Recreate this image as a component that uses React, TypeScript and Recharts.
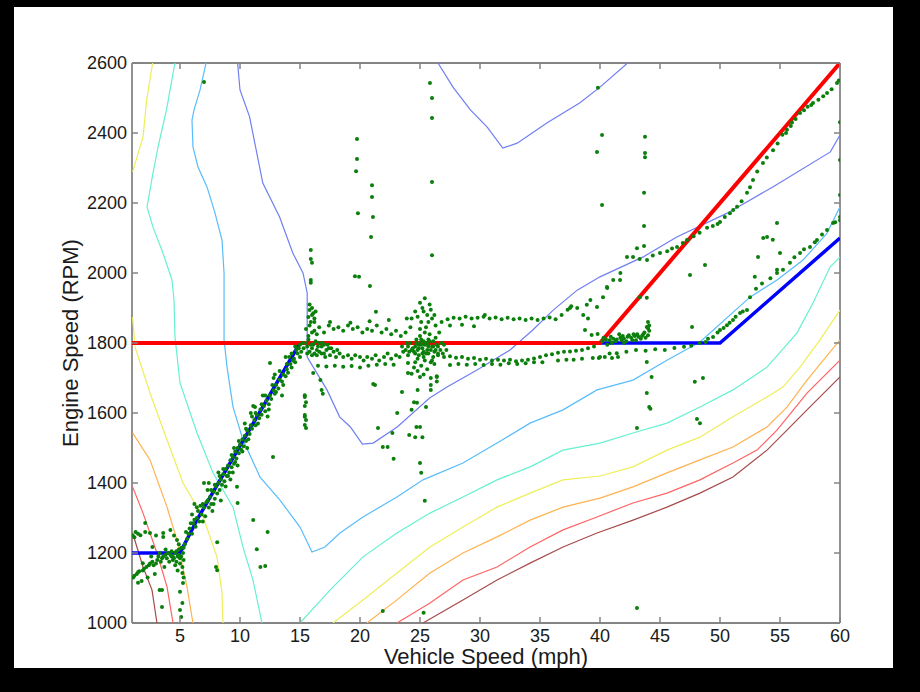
import React from 'react';
import { ScatterChart, Scatter, XAxis, YAxis } from 'recharts';

type Pt = [number, number];

// ---------------------------------------------------------------------------
// Axes
// ---------------------------------------------------------------------------

const SPEED_DOMAIN: Pt = [1, 60];
const RPM_DOMAIN: Pt = [1000, 2600];
const SPEED_TICKS = [5, 10, 15, 20, 25, 30, 35, 40, 45, 50, 55, 60];
const RPM_TICKS = [1000, 1200, 1400, 1600, 1800, 2000, 2200, 2400, 2600];

// ---------------------------------------------------------------------------
// Shift schedule lines (mph, rpm)
// ---------------------------------------------------------------------------

const upshiftLine: Pt[] = [[1, 1800], [40, 1800], [60, 2600]];
const lowGearLine: Pt[] = [[1, 1200], [5, 1200], [6.5, 1300], [15, 1800]];
const highGearLine: Pt[] = [[40, 1800], [50, 1800], [60, 2100]];

// ---------------------------------------------------------------------------
// Contour branches (mph, rpm)
// ---------------------------------------------------------------------------

const blueMain: Pt[] = [
  [9.8, 2600], [10, 2523], [10.8, 2446], [11.9, 2257], [13.3, 2160], [14.4, 2057],
  [15.25, 2000], [15.6, 1943], [15.6, 1760], [17.25, 1666], [18.3, 1589], [19.2, 1560],
  [20.2, 1511], [21.1, 1514], [23.1, 1560], [25.8, 1643], [27.25, 1674], [29.75, 1723],
  [32.5, 1780], [34.4, 1837], [36.1, 1894], [38.1, 1951], [40, 1989], [43.6, 2046],
  [46.4, 2103], [50.6, 2171], [54.4, 2246], [59.2, 2346], [60, 2394],
];
const blueTop: Pt[] = [
  [26.5, 2600], [27.75, 2531], [29.2, 2466], [30.6, 2417], [31.9, 2357], [33.1, 2371],
  [35.6, 2429], [38.3, 2486], [40, 2531], [42.3, 2600],
];
const lightBlue: Pt[] = [
  [7.17, 2600], [6.67, 2523], [6.17, 2466], [6, 2437], [6.08, 2360], [6.5, 2303],
  [7.25, 2246], [7.92, 2171], [8.5, 2094], [8.67, 2000], [8.67, 1809], [8.92, 1731],
  [9.42, 1617], [10.25, 1523], [11.67, 1417], [13.33, 1351], [15, 1274], [16, 1203],
  [17.08, 1217], [18.33, 1257], [20.25, 1303], [23.08, 1360], [25.25, 1409], [28.58, 1457],
  [31.42, 1514], [34.17, 1571], [36.92, 1609], [39.75, 1666], [42.75, 1694], [45.58, 1751],
  [48.33, 1803], [52.5, 1931], [54.75, 1980], [56.92, 2037], [58.92, 2114], [60, 2189],
];
const aquaLeft: Pt[] = [
  [4.58, 2600], [4.17, 2523], [3.92, 2474], [3.17, 2360], [2.75, 2286], [2.25, 2189],
  [2.75, 2131], [3.58, 2057], [4.33, 1980], [4.5, 1923], [4.58, 1817], [5, 1686],
  [6.42, 1543], [7.75, 1429], [9.42, 1331], [10.25, 1217], [11.08, 1123], [11.83, 1000],
];
const aquaRight: Pt[] = [
  [15, 1000], [17.5, 1094], [20.25, 1189], [23.08, 1257], [25.83, 1314], [28.58, 1360],
  [31.42, 1409], [34.17, 1446], [36.92, 1494], [40, 1514], [42.75, 1543], [45.58, 1571],
  [48.33, 1617], [51.08, 1666], [53.92, 1731], [56.42, 1829], [57.75, 1914], [59.17, 2017],
  [60, 2046],
];
const yellowTop: Pt[] = [[2.72, 2600], [2.22, 2494], [1.92, 2389], [1.05, 2289]];
const yellowLeft: Pt[] = [
  [1.05, 1874], [1.25, 1789], [2.5, 1657], [3.92, 1523], [5.25, 1400], [6.92, 1303],
  [8.08, 1189], [8.5, 1086], [8.58, 1000],
];
const yellowRight: Pt[] = [
  [17.75, 1000], [20.25, 1066], [23.08, 1143], [25.83, 1217], [28.58, 1274], [31.42, 1331],
  [34.17, 1371], [36.92, 1409], [40, 1420], [42.75, 1446], [45.58, 1494], [48.33, 1531],
  [51.08, 1589], [53.92, 1646], [55.25, 1674], [56.67, 1731], [58.33, 1809], [60, 1894],
];
const orangeLeft: Pt[] = [
  [1.05, 1543], [2.5, 1466], [3.92, 1331], [4.75, 1237], [5.58, 1103], [6.08, 1000],
];
const orangeRight: Pt[] = [
  [20.58, 1000], [23.08, 1066], [25.83, 1143], [28.58, 1200], [31.42, 1246], [34.17, 1294],
  [36.92, 1331], [40, 1357], [42.75, 1389], [45.58, 1429], [48.33, 1466], [51.08, 1503],
  [53.92, 1560], [55.58, 1617], [57.25, 1694], [60, 1809],
];
const redLeft: Pt[] = [[1.05, 1389], [1.92, 1314], [3.08, 1200], [3.92, 1103], [4.42, 1000]];
const redRight: Pt[] = [
  [23.08, 1000], [25.83, 1057], [28.58, 1123], [31.42, 1160], [34.17, 1217], [36.92, 1266],
  [39.75, 1303], [42.75, 1343], [45.58, 1371], [48.33, 1409], [51.08, 1457], [53.08, 1494],
  [54.75, 1551], [57.25, 1657], [60, 1751],
];
const brownLeft: Pt[] = [[1.05, 1257], [1.92, 1160], [2.67, 1094], [3.08, 1000]];
const brownRight: Pt[] = [
  [25.25, 1000], [28.58, 1066], [31.42, 1123], [34.17, 1171], [36.92, 1217], [39.75, 1257],
  [42.75, 1294], [45.58, 1331], [48.33, 1371], [51.08, 1417], [53.92, 1494], [55.58, 1551],
  [57.25, 1609], [60, 1703],
];

// ---------------------------------------------------------------------------
// Measured operating points (mph, rpm)
// ---------------------------------------------------------------------------

const launchPts: Pt[] = [
  [1.1, 1130], [1.2, 1245], [1.3, 1260], [1.4, 1140], [1.6, 1148], [1.7, 1251], [1.9, 1150],
  [1.9, 1171], [2.1, 1260], [2.1, 1286], [2.2, 1160], [2.5, 1170], [2.5, 1257], [2.6, 1190],
  [2.7, 1217], [2.8, 1165], [3.0, 1250], [3.1, 1180], [3.3, 1200], [3.3, 1094], [3.4, 1175],
  [3.5, 1046], [3.5, 1094], [3.6, 1190], [3.6, 1257], [3.6, 1246], [3.8, 1210], [3.9, 1185],
  [4.2, 1195], [4.2, 1266], [4.3, 1205], [4.4, 1180], [4.5, 1250], [4.6, 1200], [4.7, 1175],
  [4.75, 1237], [4.8, 1190], [4.9, 1210], [4.9, 1225], [5.0, 1185], [5.0, 1170], [5.0, 1089],
  [5.0, 1037], [5.1, 1017], [5.1, 1215], [5.2, 1160], [5.2, 1143], [5.2, 1057], [5.25, 1114],
  [5.25, 1200], [5.3, 1180], [4.4, 1190], [4.6, 1165], [4.1, 1175], [3.7, 1160], [2.9, 1140],
  [2.3, 1130], [1.8, 1120], [1.5, 1115], [4.8, 1150], [5.3, 1130],
  [1.2, 1135], [1.5, 1145], [2.0, 1155], [2.4, 1165], [2.7, 1175], [3.0, 1170], [3.2, 1190],
  [3.5, 1185], [3.8, 1195], [4.0, 1200], [4.3, 1190], [4.5, 1185], [4.7, 1205], [4.9, 1195],
  [5.1, 1190], [1.05, 1250], [1.5, 1255],
];

const rampPts: Pt[] = [
  [5.4, 1225], [5.5, 1260], [5.6, 1240], [5.8, 1270], [6.0, 1255], [6.1, 1285], [6.2, 1340],
  [6.3, 1275], [6.4, 1300], [6.5, 1320], [6.6, 1290], [6.8, 1310], [6.9, 1290], [7.0, 1330],
  [7.1, 1305], [7.2, 1345], [7.3, 1380], [7.4, 1330], [7.4, 1400], [7.5, 1360], [7.6, 1340],
  [7.7, 1320], [7.8, 1375], [7.9, 1355], [8.0, 1390], [8.1, 1370], [8.2, 1400], [8.2, 1430],
  [8.3, 1380], [8.4, 1410], [8.4, 1350], [8.5, 1395], [8.6, 1425], [8.7, 1405], [8.8, 1440],
  [8.8, 1390], [8.9, 1420], [9.0, 1450], [9.1, 1430], [9.2, 1465], [9.2, 1410], [9.3, 1445],
  [9.4, 1475], [9.5, 1455], [9.5, 1500], [9.6, 1490], [9.7, 1470], [9.8, 1500], [9.8, 1450],
  [9.9, 1485], [10.0, 1510], [10.1, 1495], [10.2, 1525], [10.3, 1505], [10.4, 1535],
  [10.4, 1570], [10.5, 1520], [10.6, 1550], [10.6, 1500], [10.8, 1540], [10.9, 1565],
  [11.0, 1555], [11.1, 1620], [11.2, 1580], [11.3, 1565], [11.4, 1595], [11.6, 1585],
  [11.7, 1610], [11.8, 1595], [11.9, 1650], [12.0, 1620], [12.1, 1605], [12.2, 1635],
  [12.3, 1590], [12.4, 1625], [12.5, 1650], [12.6, 1640], [12.8, 1665], [12.8, 1700],
  [12.9, 1655], [13.0, 1680], [13.2, 1670], [13.3, 1695], [13.5, 1690], [13.5, 1650],
  [13.6, 1710], [13.8, 1705], [13.8, 1760], [13.9, 1725], [14.0, 1715], [14.2, 1740],
  [14.3, 1730], [14.3, 1770], [14.5, 1755], [14.6, 1745], [14.8, 1770], [14.9, 1785],
  [15.0, 1795], [15.1, 1775],
  [5.3, 1215], [5.7, 1255], [5.9, 1285], [6.2, 1295], [6.7, 1335], [6.9, 1340], [7.3, 1350],
  [7.6, 1380], [7.9, 1395], [8.3, 1420], [8.6, 1440], [9.0, 1420], [9.3, 1480], [9.6, 1460],
  [9.9, 1520], [10.2, 1490], [10.5, 1555], [10.7, 1525], [11.0, 1590], [11.3, 1600],
  [11.5, 1570], [11.8, 1625], [12.1, 1650], [12.4, 1610], [12.7, 1680], [13.0, 1660],
  [13.3, 1720], [13.6, 1680], [13.9, 1740], [14.1, 1760], [14.4, 1750], [14.7, 1780],
  [15.0, 1760], [14.6, 1790], [15.2, 1800], [6.0, 1310], [7.8, 1340], [9.4, 1430],
  [10.9, 1600], [12.9, 1710],
];

const cruisePts: Pt[] = [
  // column near 15.5 mph
  [15.9, 2066], [15.9, 2040], [16.0, 2029], [15.9, 1980], [15.9, 1972], [15.8, 1894],
  [15.7, 1874], [16.1, 1885], [16.2, 1870], [15.9, 1860], [16.3, 1890], [16.0, 1900],
  [15.4, 1651], [15.5, 1631], [15.4, 1594], [15.5, 1580], [15.4, 1566], [15.5, 1557],
  [16.8, 1666], [16.9, 1655], [16.1, 1714], [16.7, 1694], [15.4, 1646], [15.4, 1620],
  [15.4, 1589],
  // dense band ~1770
  [15.6, 1790], [15.8, 1775], [16.0, 1785], [16.2, 1770], [16.4, 1780], [16.6, 1775],
  [16.8, 1790], [17.0, 1770], [17.2, 1780], [17.5, 1765], [17.8, 1775], [18.0, 1760],
  [18.3, 1770], [18.6, 1760], [19.0, 1765], [19.3, 1755], [19.6, 1765], [20.0, 1760],
  [20.3, 1750], [20.6, 1760], [21.0, 1755], [21.3, 1765], [21.6, 1750], [22.0, 1760],
  [22.3, 1770], [22.6, 1755], [23.0, 1765], [23.3, 1760], [23.6, 1775], [24.0, 1765],
  [24.3, 1780], [24.6, 1770], [15.5, 1800], [15.7, 1810], [16.1, 1795], [16.3, 1805],
  [16.5, 1790], [16.9, 1800], [17.3, 1795], [17.6, 1785], [18.1, 1780],
  [15.3, 1785], [15.6, 1770], [15.9, 1795], [16.0, 1765], [16.2, 1800], [16.4, 1765],
  [16.6, 1800], [16.8, 1770], [17.0, 1795], [17.1, 1760], [17.4, 1785], [15.7, 1820],
  [16.0, 1830], [16.4, 1825], [15.5, 1840], [16.2, 1860], [15.8, 1910], [16.0, 1880],
  // upper band ~1840
  [15.8, 1850], [16.2, 1835], [16.6, 1845], [17.0, 1830], [17.4, 1850], [17.8, 1840],
  [18.2, 1845], [18.6, 1835], [19.0, 1850], [19.4, 1840], [19.8, 1845], [20.2, 1830],
  [20.6, 1840], [21.0, 1835], [21.4, 1850], [21.8, 1830], [22.2, 1840], [22.6, 1825],
  [23.0, 1835], [23.4, 1820], [23.8, 1830], [24.2, 1845], [17.5, 1860], [19.2, 1858],
  [20.8, 1862], [22.4, 1866], [23.9, 1870],
  // dotted row ~1735
  [16.5, 1735], [17.2, 1733], [17.9, 1735], [18.6, 1732], [19.3, 1734], [20.0, 1730],
  [20.7, 1735], [21.4, 1738], [22.1, 1740], [22.8, 1738], [27.5, 1737], [28.2, 1740],
  [28.9, 1738], [29.6, 1740], [30.3, 1737], [31.0, 1740], [31.7, 1738], [32.4, 1742],
  [33.1, 1740], [33.8, 1742], [34.5, 1745], [35.2, 1745],
  // rows 26-40 mph
  [26.8, 1860], [27.3, 1868], [27.8, 1872], [28.3, 1870], [28.8, 1875], [29.3, 1870],
  [29.8, 1872], [30.3, 1875], [30.8, 1870], [31.3, 1873], [31.8, 1868], [32.3, 1872],
  [32.8, 1868], [33.3, 1870], [33.8, 1866], [34.3, 1870], [34.8, 1866], [35.3, 1870],
  [35.8, 1873], [36.3, 1868], [36.8, 1880], [37.3, 1895], [37.6, 1905], [38.1, 1900],
  [38.6, 1880], [39.0, 1870], [27.5, 1850], [28.5, 1852], [29.5, 1848], [30.4, 1880],
  [26.5, 1765], [27.0, 1760], [27.5, 1762], [28.0, 1758], [28.5, 1760], [29.0, 1755],
  [29.5, 1757], [30.0, 1752], [30.5, 1755], [31.0, 1750], [31.5, 1752], [32.0, 1750],
  [32.5, 1752], [33.0, 1748], [33.5, 1750], [34.0, 1752], [34.5, 1756], [35.0, 1760],
  [35.5, 1765], [36.0, 1768], [36.5, 1772], [37.0, 1775], [37.5, 1776], [38.0, 1778],
  [38.5, 1780], [39.0, 1785], [39.5, 1790], [36.5, 1750], [37.2, 1752], [37.8, 1752],
  [38.5, 1755], [39.4, 1757], [38.75, 1837], [39.3, 1823], [39.8, 1826], [37.5, 1900],
  [38.9, 1909], [39.2, 1923],
];

const clusterPts: Pt[] = [
  [24.6, 1790], [24.8, 1780], [25.0, 1800], [25.2, 1785], [25.4, 1795], [25.6, 1780],
  [25.8, 1805], [26.0, 1790], [26.2, 1775], [26.4, 1795], [24.9, 1765], [25.3, 1760],
  [25.7, 1770], [26.1, 1760], [25.0, 1820], [25.4, 1830], [25.8, 1825], [26.3, 1815],
  [24.7, 1810], [25.5, 1845], [25.1, 1860], [25.6, 1880], [25.2, 1900], [25.0, 1915],
  [25.4, 1928], [25.8, 1910], [24.6, 1890], [24.3, 1870], [26.0, 1870], [26.3, 1850],
  [26.6, 1830], [26.8, 1800], [26.7, 1780], [27.0, 1795], [24.2, 1800], [24.0, 1790],
  [23.8, 1780], [25.9, 1745], [25.1, 1735], [25.6, 1725], [26.2, 1740], [24.8, 1720],
  [25.3, 1710], [25.9, 1700], [26.4, 1705], [24.5, 1730], [24.9, 1795], [25.3, 1775],
  [25.7, 1790], [26.1, 1805], [25.5, 1800], [25.1, 1810], [24.4, 1785], [26.5, 1770],
  [25.0, 1703], [24.8, 1666], [24.5, 1631], [25.5, 1617], [24.3, 1609], [25.0, 1560],
  [24.7, 1560], [24.1, 1537], [24.6, 1531], [25.2, 1531], [25.0, 1457], [25.1, 1429],
  [25.4, 1349], [25.9, 1680], [25.9, 1666], [24.0, 1714], [24.3, 1712], [24.0, 1743],
  [26.4, 1703], [26.4, 1690],
  [24.5, 1775], [24.7, 1800], [24.9, 1785], [25.1, 1795], [25.3, 1805], [25.5, 1770],
  [25.7, 1810], [25.9, 1780], [26.1, 1790], [26.3, 1780], [24.8, 1755], [25.4, 1750],
  [26.0, 1750], [25.2, 1770], [25.6, 1795], [24.6, 1745], [26.5, 1790], [26.9, 1770],
  [27.2, 1780], [23.5, 1790], [23.9, 1800], [24.1, 1775], [25.0, 1840], [25.7, 1860],
  [26.2, 1880], [24.8, 1875], [25.3, 1890], [25.9, 1895],
];

const strayPts: Pt[] = [
  [7.0, 1400], [6.4, 1331], [8.1, 1231], [8.1, 1151], [8.0, 1160], [9.75, 1389],
  [9.8, 1343], [11.1, 1294], [12.3, 1260], [11.4, 1211], [12.1, 1163], [11.7, 1160],
  [12.75, 1474], [11.25, 1617], [12.5, 1743], [7.0, 2546],
  [25.83, 2543], [26.0, 2500], [26.0, 2443], [26.0, 2260], [26.0, 2051],
  [19.75, 2383], [19.75, 2326], [19.67, 2291], [19.83, 2171], [19.58, 1991], [19.92, 1989],
  [21.0, 2251], [21.0, 2217], [21.08, 2160], [20.92, 2103], [20.83, 1963], [21.33, 1889],
  [39.83, 2529], [39.75, 2346], [40.17, 2394], [40.17, 2194],
  [21.1, 1683], [23.5, 1660], [23.1, 1600], [21.5, 1557], [22.7, 1543], [21.9, 1503],
  [22.3, 1503], [22.8, 1469], [21.25, 1680], [24.75, 1629], [25.3, 1029], [21.9, 1034],
  [43.9, 1746], [44.3, 1703], [43.9, 1657], [44.1, 1617], [44.2, 1612], [43.08, 1557],
  [47.9, 1689], [48.58, 1700], [48.08, 1583], [48.33, 1571], [43.08, 1043],
];

const highGearPts: Pt[] = [
  // hump at 40-44 mph
  [40.2, 1805], [40.5, 1810], [40.8, 1808], [41.1, 1812], [41.4, 1810], [41.7, 1815],
  [42.0, 1812], [42.3, 1818], [42.6, 1815], [42.9, 1820], [43.2, 1818], [43.5, 1820],
  [43.8, 1815], [44.0, 1822], [44.1, 1835], [44.1, 1850], [44.0, 1860], [43.6, 1825],
  [42.8, 1825], [41.9, 1820], [41.0, 1800], [40.6, 1795], [42.2, 1805], [43.0, 1808],
  [40.3, 1815], [40.9, 1818], [41.3, 1805], [41.8, 1808], [42.4, 1822], [42.7, 1808],
  [43.1, 1825], [43.4, 1812], [43.7, 1830], [44.0, 1842], [41.6, 1825], [42.0, 1800],
  // row 40-49 mph
  [40.0, 1760], [40.8, 1770], [41.4, 1771], [42.2, 1775], [43.0, 1780], [43.8, 1778],
  [44.6, 1782], [45.4, 1780], [46.2, 1786], [47.0, 1789], [47.6, 1792], [48.3, 1800],
  [48.8, 1803], [39.9, 1757], [40.4, 1760], [41.0, 1757], [41.5, 1760],
  // band below the upshift line
  [39.75, 1903], [40.25, 1931], [40.6, 1957], [41.1, 1980], [41.7, 2000], [42.25, 2046],
  [40.58, 1960], [41.67, 1980], [42.75, 2046], [43.3, 2040], [43.92, 2037], [44.4, 2050],
  [45.0, 2057], [45.6, 2062], [46.0, 2070], [46.42, 2074], [46.9, 2086], [47.25, 2094],
  [47.8, 2105], [48.3, 2115], [48.92, 2129], [49.4, 2134], [49.8, 2140], [50.0, 2146],
  [50.4, 2160], [50.83, 2171], [51.1, 2180], [51.42, 2189], [51.8, 2205], [52.25, 2229],
  [52.5, 2245], [52.75, 2266], [53.1, 2290], [53.58, 2314], [53.9, 2330], [54.42, 2351],
  [54.8, 2370], [55.2, 2395], [55.58, 2409], [55.9, 2420], [56.0, 2430], [56.3, 2440],
  [56.67, 2457], [57.0, 2465], [57.3, 2475], [57.6, 2480], [57.75, 2486], [58.2, 2495],
  [58.6, 2505], [58.92, 2514], [59.3, 2525], [59.75, 2543], [59.9, 2550], [55.5, 2400],
  // band above the high-gear line
  [49.0, 1812], [49.42, 1817], [49.8, 1830], [50.0, 1837], [50.3, 1843], [50.58, 1851],
  [50.8, 1858], [51.08, 1866], [51.3, 1875], [51.67, 1886], [51.9, 1890], [52.25, 1894],
  [52.5, 1931], [53.0, 1955], [53.5, 1970], [54.2, 1985], [54.75, 2000], [55.25, 2009],
  [55.83, 2029], [56.2, 2045], [56.67, 2057], [57.0, 2068], [57.5, 2074], [57.9, 2088],
  [58.08, 2094], [58.5, 2110], [58.92, 2123], [59.42, 2143], [59.6, 2145], [60.0, 2151],
  // scattered
  [60.0, 2431], [60.0, 2323], [60.0, 2223], [60.0, 2160], [54.75, 2143], [53.92, 2103],
  [53.6, 2100], [54.4, 2095], [53.17, 2046], [55.0, 2057], [52.9, 1989], [54.75, 2009],
  [48.75, 2023], [47.5, 1994], [43.33, 1931], [43.75, 2389], [43.75, 2343], [43.75, 2331],
  [43.67, 2229], [43.67, 2134], [43.67, 2077], [47.67, 1846], [43.08, 2071], [43.9, 1929],
  [43.9, 1846],
];

// ---------------------------------------------------------------------------
// Styling
// ---------------------------------------------------------------------------

const AXIS_GREY = '#858585';
const POINT_GREEN = '#0b7f0b';
const TICK_LEN = 6;

const CONTOURS: { key: string; pts: Pt[]; color: string }[] = [
  { key: 'brownLeft', pts: brownLeft, color: '#a64b4b' },
  { key: 'brownRight', pts: brownRight, color: '#a64b4b' },
  { key: 'redLeft', pts: redLeft, color: '#ff6464' },
  { key: 'redRight', pts: redRight, color: '#ff6464' },
  { key: 'orangeLeft', pts: orangeLeft, color: '#ffb24f' },
  { key: 'orangeRight', pts: orangeRight, color: '#ffb24f' },
  { key: 'yellowTop', pts: yellowTop, color: '#eeee5a' },
  { key: 'yellowLeft', pts: yellowLeft, color: '#eeee5a' },
  { key: 'yellowRight', pts: yellowRight, color: '#eeee5a' },
  { key: 'aquaLeft', pts: aquaLeft, color: '#66f0d0' },
  { key: 'aquaRight', pts: aquaRight, color: '#66f0d0' },
  { key: 'lightBlue', pts: lightBlue, color: '#58bdfb' },
  { key: 'blueMain', pts: blueMain, color: '#6f7ff0' },
  { key: 'blueTop', pts: blueTop, color: '#6f7ff0' },
];

const toXY = (pts: Pt[]) => pts.map(([x, y]) => ({ x, y }));

const noMark = () => <g />;
const dot = (props: any) => (
  <circle cx={props.cx} cy={props.cy} r={2} fill={POINT_GREEN} />
);

const FONT = 'Liberation Sans, Arial, sans-serif';
const tickFont = { fontSize: 18, fill: '#1a1a1a', fontFamily: FONT };
const titleFont = { fontSize: 22, fill: '#1a1a1a', fontFamily: FONT };

// MATLAB-style inward ticks (tickSize 0, tickMargin 0 -> x/y sit on the axis line)
const bottomTick = (p: any) => (
  <g>
    <line x1={p.x} x2={p.x} y1={p.y} y2={p.y - TICK_LEN} stroke={AXIS_GREY} strokeWidth={1.5} />
    <text x={p.x} y={p.y + 6} dy="0.71em" textAnchor="middle" {...tickFont}>
      {p.payload.value}
    </text>
  </g>
);
const topTick = (p: any) => (
  <line x1={p.x} x2={p.x} y1={p.y} y2={p.y + TICK_LEN} stroke={AXIS_GREY} strokeWidth={1.5} />
);
const leftTick = (p: any) => (
  <g>
    <line x1={p.x} x2={p.x + TICK_LEN} y1={p.y} y2={p.y} stroke={AXIS_GREY} strokeWidth={1.5} />
    <text x={p.x - 5} y={p.y} dy="0.355em" textAnchor="end" {...tickFont}>
      {p.payload.value}
    </text>
  </g>
);
const rightTick = (p: any) => (
  <line x1={p.x} x2={p.x - TICK_LEN} y1={p.y} y2={p.y} stroke={AXIS_GREY} strokeWidth={1.5} />
);

const xTitle = (props: any) => {
  const { x, y, width } = props.viewBox;
  return (
    <text x={x + width / 2} y={y + 41} textAnchor="middle" {...titleFont}>
      Vehicle Speed (mph)
    </text>
  );
};

const yTitle = (props: any) => {
  const { x, y, height } = props.viewBox;
  const cx = x + 16;
  const cy = y + height / 2;
  return (
    <text x={cx} y={cy} textAnchor="middle" transform={`rotate(-90 ${cx} ${cy})`} {...titleFont}>
      Engine Speed (RPM)
    </text>
  );
};

// ---------------------------------------------------------------------------
// Component
// ---------------------------------------------------------------------------

const ShiftMapChart: React.FC = () => (
  <div style={{ position: 'absolute', left: 0, top: 0, width: 920, height: 692, background: '#000' }}>
    <div
      style={{ position: 'absolute', left: 14, top: 7, width: 879, height: 661, background: '#fff' }}
    />
    <div style={{ position: 'absolute', left: 0, top: 0 }}>
      <ScatterChart width={920} height={692} margin={{ top: 43, right: 60, bottom: 19, left: 62 }}>
        <XAxis
          type="number"
          dataKey="x"
          domain={SPEED_DOMAIN}
          ticks={SPEED_TICKS}
          allowDataOverflow
          height={50}
          tickSize={0}
          tickMargin={0}
          tickLine={false}
          tick={bottomTick}
          stroke={AXIS_GREY}
          strokeWidth={1.8}
          label={{ content: xTitle }}
        />
        <XAxis
          xAxisId="top"
          orientation="top"
          type="number"
          dataKey="x"
          domain={SPEED_DOMAIN}
          ticks={SPEED_TICKS}
          allowDataOverflow
          height={20}
          tickSize={0}
          tickMargin={0}
          tickLine={false}
          tick={topTick}
          stroke={AXIS_GREY}
          strokeWidth={1.8}
        />
        <YAxis
          type="number"
          dataKey="y"
          domain={RPM_DOMAIN}
          ticks={RPM_TICKS}
          allowDataOverflow
          width={70}
          tickSize={0}
          tickMargin={0}
          tickLine={false}
          tick={leftTick}
          stroke={AXIS_GREY}
          strokeWidth={1.8}
          label={{ content: yTitle }}
        />
        <YAxis
          yAxisId="right"
          orientation="right"
          type="number"
          dataKey="y"
          domain={RPM_DOMAIN}
          ticks={RPM_TICKS}
          allowDataOverflow
          width={20}
          tickSize={0}
          tickMargin={0}
          tickLine={false}
          tick={rightTick}
          stroke={AXIS_GREY}
          strokeWidth={1.8}
        />

        {CONTOURS.map((c) => (
          <Scatter
            key={c.key}
            data={toXY(c.pts)}
            line={{ stroke: c.color, strokeWidth: 1.2 }}
            lineType="joint"
            shape={noMark}
            isAnimationActive={false}
          />
        ))}

        <Scatter
          data={toXY(lowGearLine)}
          line={{ stroke: '#0000ff', strokeWidth: 3.5 }}
          lineType="joint"
          shape={noMark}
          isAnimationActive={false}
        />
        <Scatter
          data={toXY(highGearLine)}
          line={{ stroke: '#0000ff', strokeWidth: 3.5 }}
          lineType="joint"
          shape={noMark}
          isAnimationActive={false}
        />
        <Scatter
          xAxisId="top"
          yAxisId="right"
          data={toXY(upshiftLine)}
          line={{ stroke: '#ff0000', strokeWidth: 4 }}
          lineType="joint"
          shape={noMark}
          isAnimationActive={false}
        />

        <Scatter data={toXY(launchPts)} shape={dot} isAnimationActive={false} />
        <Scatter data={toXY(rampPts)} shape={dot} isAnimationActive={false} />
        <Scatter data={toXY(cruisePts)} shape={dot} isAnimationActive={false} />
        <Scatter data={toXY(clusterPts)} shape={dot} isAnimationActive={false} />
        <Scatter data={toXY(strayPts)} shape={dot} isAnimationActive={false} />
        <Scatter data={toXY(highGearPts)} shape={dot} isAnimationActive={false} />
      </ScatterChart>
    </div>
  </div>
);

export default function App() {
  return <ShiftMapChart />;
}
